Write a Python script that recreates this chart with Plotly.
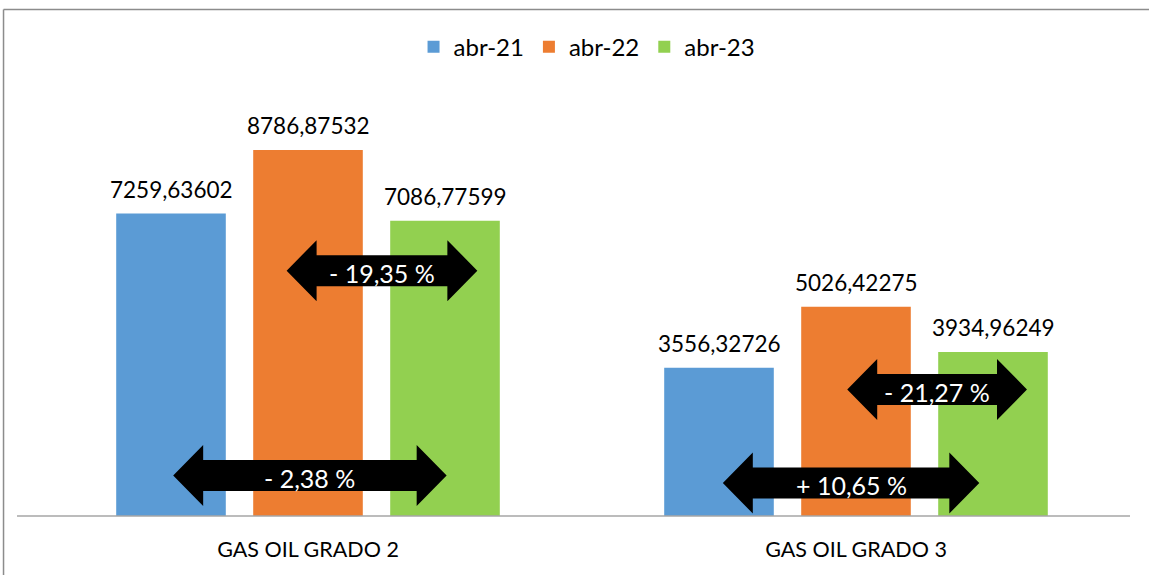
import plotly.graph_objects as go

# data
categories = ['GAS OIL GRADO 2', 'GAS OIL GRADO 3']
series_names = ['abr-21', 'abr-22', 'abr-23']
abr21 = [7259.63602, 3556.32726]
abr22 = [8786.87532, 5026.42275]
abr23 = [7086.77599, 3934.96249]
series_values = [abr21, abr22, abr23]
colors = ['#5b9bd5', '#ed7d31', '#92d050']

# variation arrows: category index, start/end offset (category units), centre value, label
arrow_cat = [0, 0, 1, 1]
arrow_x0 = [-0.039, -0.246, -0.016, -0.243]
arrow_x1 = [0.309, 0.253, 0.312, 0.225]
arrow_y = [5889, 972, 3037, 792]
arrow_text = ['- 19,35 %', '- 2,38 %', '- 21,27 %', '+ 10,65 %']

FONT = 'Lato'
BARGAP = 0.25
Y_MAX = 9987
HEAD_LEN = 0.0547   # category units
HEAD_HALF = 732     # value units
SHAFT_HALF = 372


def fmt(v):
    return f'{v:.5f}'.replace('.', ',')


def arrow_path(ci, x0, x1, yc):
    a, b = ci + x0, ci + x1
    pts = [
        (a, yc),
        (a + HEAD_LEN, yc + HEAD_HALF),
        (a + HEAD_LEN, yc + SHAFT_HALF),
        (b - HEAD_LEN, yc + SHAFT_HALF),
        (b - HEAD_LEN, yc + HEAD_HALF),
        (b, yc),
        (b - HEAD_LEN, yc - HEAD_HALF),
        (b - HEAD_LEN, yc - SHAFT_HALF),
        (a + HEAD_LEN, yc - SHAFT_HALF),
        (a + HEAD_LEN, yc - HEAD_HALF),
    ]
    return 'M ' + ' L '.join(f'{x:.4f},{y:.1f}' for x, y in pts) + ' Z'


fig = go.Figure()
for name, vals, col in zip(series_names, series_values, colors):
    fig.add_trace(go.Bar(x=categories, y=vals, name=name, marker=dict(color=col, line=dict(width=0))))

annotations = []
slot = (1 - BARGAP) / 3
for si, vals in enumerate(series_values):
    for ci, v in enumerate(vals):
        annotations.append(dict(
            x=ci + (si - 1) * slot, y=v, xref='x', yref='y', text=fmt(v), showarrow=False,
            yanchor='bottom', yshift=9, font=dict(family=FONT, size=22.5, color='#000000')))

shapes = []
for ci, x0, x1, yc, txt in zip(arrow_cat, arrow_x0, arrow_x1, arrow_y, arrow_text):
    shapes.append(dict(type='path', xref='x', yref='y', path=arrow_path(ci, x0, x1, yc),
                       fillcolor='#000000', line=dict(width=0)))
    annotations.append(dict(x=ci + (x0 + x1) / 2, y=yc, xref='x', yref='y', text=txt, showarrow=False,
                            yshift=-2, font=dict(family=FONT, size=25, color='#ffffff')))

# chart frame (left and top edges, the rest is cut off) and baseline
frame = dict(color='#8c8c8c', width=1.5)
shapes.append(dict(type='line', xref='paper', yref='paper', x0=-0.0278, x1=1.2, y0=1.2175, y1=1.2175, line=frame))
shapes.append(dict(type='line', xref='paper', yref='paper', x0=-0.0278, x1=-0.0278, y0=-0.5, y1=1.2175, line=frame))
shapes.append(dict(type='line', xref='paper', yref='paper', x0=-0.0155, x1=1.0, y0=0, y1=0,
                   line=dict(color='#a6a6a6', width=1.5)))

fig.update_layout(
    width=1149, height=575,
    margin=dict(l=34, r=19, t=100, b=59),
    paper_bgcolor='white', plot_bgcolor='white',
    barmode='group', bargap=BARGAP, bargroupgap=0.2,
    font=dict(family=FONT, color='#000000'),
    showlegend=True,
    legend=dict(orientation='h', x=0.5046, xanchor='center', y=1.127, yanchor='middle',
                font=dict(family=FONT, size=24), itemwidth=30),
    xaxis=dict(showgrid=False, showline=False, ticks='', ticklabelstandoff=18,
               tickfont=dict(family=FONT, size=21.5)),
    yaxis=dict(range=[0, Y_MAX], visible=False, showgrid=False),
    shapes=shapes,
    annotations=annotations,
)

# drop the default page margin and scrollbars so the figure fills the window
page_js = ("document.body.style.margin='0';"
           "document.body.style.overflow='hidden';"
           "document.documentElement.style.overflow='hidden';")
fig.write_html('out.html', config={'displayModeBar': False}, post_script=page_js)
